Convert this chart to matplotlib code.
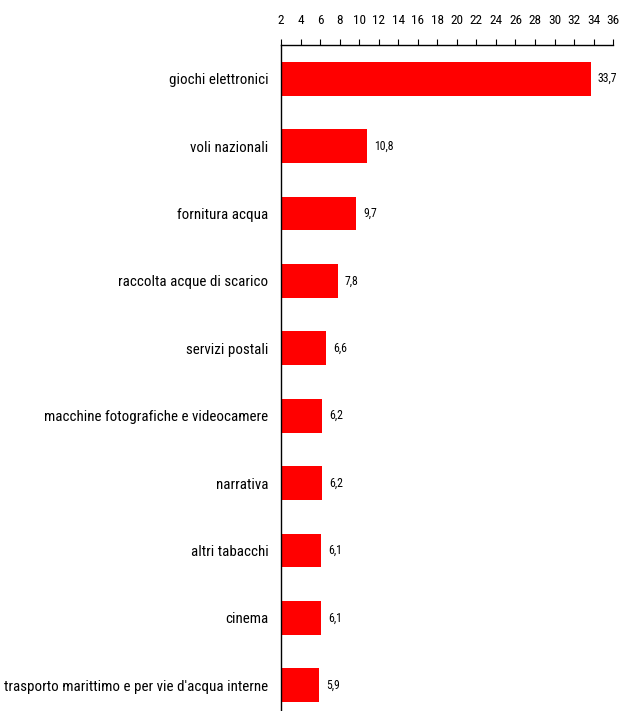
import matplotlib.pyplot as plt

categories = [
    "giochi elettronici",
    "voli nazionali",
    "fornitura acqua",
    "raccolta acque di scarico",
    "servizi postali",
    "macchine fotografiche e videocamere",
    "narrativa",
    "altri tabacchi",
    "cinema",
    "trasporto marittimo e per vie d'acqua interne",
]
values = [33.7, 10.8, 9.7, 7.8, 6.6, 6.2, 6.2, 6.1, 6.1, 5.9]
xticks = list(range(2, 37, 2))

plt.rcParams["font.family"] = ["Roboto Condensed", "DejaVu Sans"]

fig = plt.figure(figsize=(6.19, 7.11), dpi=100)
ax = fig.add_axes([0.454, -0.0113, 0.5365, 0.948])

# bars grow from the axis origin at 2
base = 2
ypos = range(len(categories))
ax.barh(ypos, [v - base for v in values], left=base, height=0.5, color="#ff0000")
for y, v in zip(ypos, values):
    ax.text(v + 0.75, y, f"{v:.1f}".replace(".", ","), va="center", ha="left", fontsize=8.5)

ax.set_xlim(2, 36)
ax.set_ylim(9.5, -0.5)
ax.set_yticks(list(ypos))
ax.set_yticklabels(categories, fontsize=10.8)
ax.set_xticks(xticks)
ax.set_xticklabels([str(t) for t in xticks], fontsize=9.5)
ax.xaxis.tick_top()
ax.tick_params(axis="x", direction="out", length=4, width=0.8, pad=9)
ax.tick_params(axis="y", length=0, pad=9)
ax.spines["right"].set_visible(False)
ax.spines["bottom"].set_visible(False)
for s in ("top", "left"):
    ax.spines[s].set_linewidth(1)

fig.savefig("out.png", dpi=100)
